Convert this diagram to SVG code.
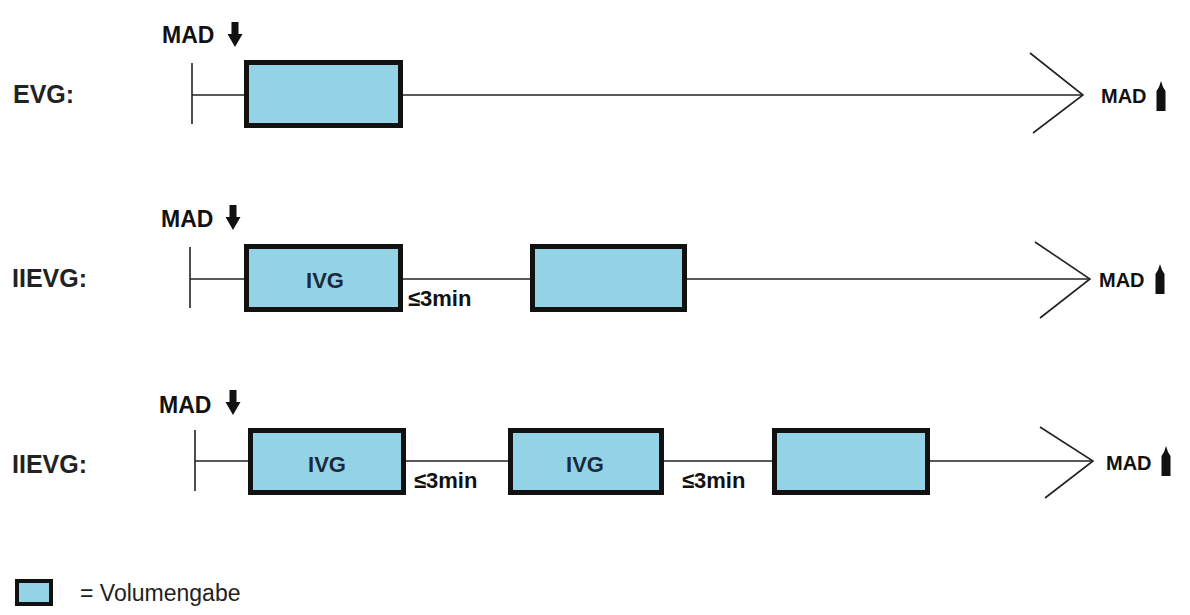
<svg xmlns="http://www.w3.org/2000/svg" width="1190" height="615" viewBox="0 0 1190 615">
<style>
.bg{fill:#ffffff}
.box{fill:#94d3e6;stroke:#111;stroke-width:5}
.ln{stroke:#222;stroke-width:1.6;fill:none}
.lbl{font-family:"Liberation Sans",Arial,sans-serif;font-weight:bold;font-size:25px;fill:#222}
.mad{font-family:"Liberation Sans",Arial,sans-serif;font-weight:bold;font-size:23px;fill:#111}
.madr{font-family:"Liberation Sans",Arial,sans-serif;font-weight:bold;font-size:20px;fill:#111}
.in{font-family:"Liberation Sans",Arial,sans-serif;font-weight:bold;font-size:22px;fill:#1a2a3a;text-anchor:middle}
.t{font-family:"Liberation Sans",Arial,sans-serif;font-weight:bold;font-size:22px;fill:#111}
.leg{font-family:"Liberation Sans",Arial,sans-serif;font-size:23px;fill:#222}
.ar{fill:#111}
</style>
<defs>
<path id="down" d="M-3.5,0 H3.5 V12 H7.5 L0,25 L-7.5,12 H-3.5 Z"/>
<path id="up" d="M0,0 L2,6 L4.5,10 L4.5,30 L-4.5,30 L-4.5,10 L-2,6 Z"/>
</defs>
<rect class="bg" x="0" y="0" width="1190" height="615"/>

<g id="connectors">
<!-- row 1 -->
<line class="ln" x1="192" y1="63" x2="192" y2="124"/>
<line class="ln" x1="192" y1="95" x2="1082" y2="95"/>
<polyline class="ln" points="1030,53 1083,95 1033,133"/>
<!-- row 2 -->
<line class="ln" x1="190" y1="247" x2="190" y2="308"/>
<line class="ln" x1="190" y1="279" x2="1090" y2="279"/>
<polyline class="ln" points="1035,242 1090,279 1040,318"/>
<!-- row 3 -->
<line class="ln" x1="195" y1="430" x2="195" y2="491"/>
<line class="ln" x1="195" y1="461" x2="1093" y2="461"/>
<polyline class="ln" points="1040,427 1093,461 1045,498"/>
</g>

<g id="row1">
<text class="lbl" x="13" y="103">EVG:</text>
<text class="mad" x="162" y="43">MAD</text>
<use href="#down" class="ar" x="235" y="22"/>
<g id="r1box1"><rect class="box" x="246.5" y="62.5" width="154" height="63"/></g>
<text class="madr" x="1101" y="103">MAD</text>
<use href="#up" class="ar" x="1161" y="81"/>
</g>

<g id="row2">
<text class="lbl" x="12" y="287">IIEVG:</text>
<text class="mad" x="161" y="227">MAD</text>
<use href="#down" class="ar" x="233" y="205"/>
<g id="r2box1"><rect class="box" x="246.5" y="246.5" width="154" height="63"/><text class="in" x="325" y="288">IVG</text></g>
<text class="t" x="408" y="306">≤3min</text>
<g id="r2box2"><rect class="box" x="532.5" y="246.5" width="152" height="63"/></g>
<text class="madr" x="1099" y="287">MAD</text>
<use href="#up" class="ar" x="1160" y="264"/>
</g>

<g id="row3">
<text class="lbl" x="12" y="473">IIEVG:</text>
<text class="mad" x="159" y="413">MAD</text>
<use href="#down" class="ar" x="233" y="390"/>
<g id="r3box1"><rect class="box" x="250.5" y="430.5" width="153" height="62"/><text class="in" x="327" y="472">IVG</text></g>
<text class="t" x="414" y="488">≤3min</text>
<g id="r3box2"><rect class="box" x="510.5" y="430.5" width="151" height="62"/><text class="in" x="585" y="472">IVG</text></g>
<text class="t" x="682" y="488">≤3min</text>
<g id="r3box3"><rect class="box" x="774.5" y="430.5" width="153" height="62"/></g>
<text class="madr" x="1106" y="470">MAD</text>
<use href="#up" class="ar" x="1166" y="446"/>
</g>

<g id="legend">
<rect class="box" x="17" y="581" width="34" height="23" style="stroke-width:4"/>
<text class="leg" x="80" y="601">= Volumengabe</text>
</g>
</svg>
